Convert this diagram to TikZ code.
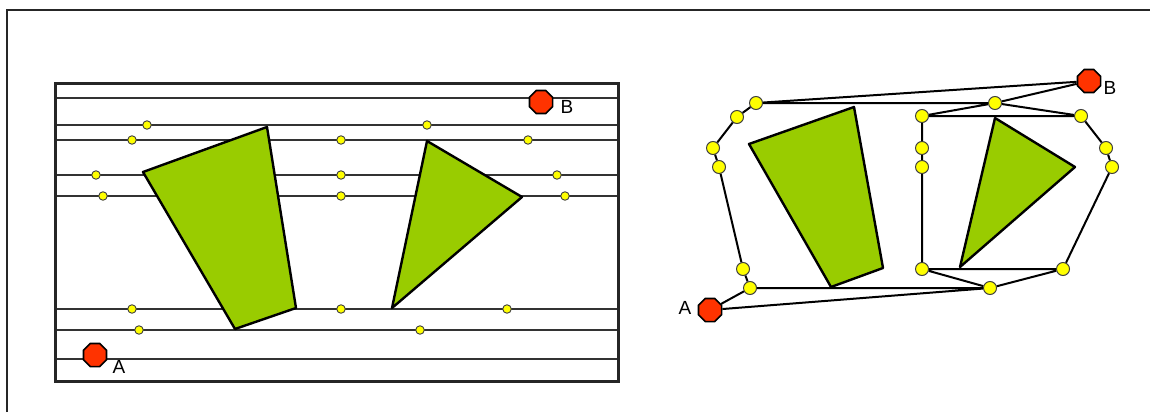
\documentclass[tikz,border=0pt]{standalone}
\usepackage{fontspec}
\setmainfont{Liberation Sans}
\usetikzlibrary{shapes.geometric}
\definecolor{obgreen}{HTML}{99CC00}
\definecolor{termred}{HTML}{FF3300}
\definecolor{dotyellow}{HTML}{FFFF00}
\begin{document}
\begin{tikzpicture}[x=1pt,y=-1pt,
  sdot/.style={circle,draw=black!75,fill=dotyellow,line width=0.9pt,inner sep=0pt,minimum size=8.5pt},
  bdot/.style={circle,draw=black!75,fill=dotyellow,line width=1pt,inner sep=0pt,minimum size=13pt},
  term/.style={regular polygon,regular polygon sides=8,draw=black,fill=termred,line width=1.6pt,inner sep=0pt,minimum size=25pt},
  obst/.style={fill=obgreen,draw=black,line width=2.4pt,line join=round},
  lbl/.style={font=\fontsize{19}{19}\selectfont,inner sep=0pt},
  sweep/.style={draw=black!80,line width=1.6pt},
  gedge/.style={draw=black,line width=2pt}]
\useasboundingbox (0,0) rectangle (1150,412);
% outer frame
\draw[line width=2pt,black!85] (7,412) -- (7,10) -- (1150,10);

% ---------- left panel ----------
\foreach \yy in {98,125,140,175,196,309,330,359}
  \draw[sweep] (55,\yy) -- (618,\yy);
\draw[line width=3pt,black!85] (55,83) rectangle (618,381);
\draw[obst] (143,172) -- (267,127) -- (296,308) -- (235,329) -- cycle;
\draw[obst] (427,141) -- (522,197) -- (392,308) -- cycle;

\node[sdot] (p1) at (147,125) {};
\node[sdot] (p2) at (427,125) {};
\node[sdot] (p3) at (132,140) {};
\node[sdot] (p4) at (341,140) {};
\node[sdot] (p5) at (528,140) {};
\node[sdot] (p6) at (96,175) {};
\node[sdot] (p7) at (341,175) {};
\node[sdot] (p8) at (557,175) {};
\node[sdot] (p9) at (103,196) {};
\node[sdot] (p10) at (341,196) {};
\node[sdot] (p11) at (565,196) {};
\node[sdot] (p12) at (132,309) {};
\node[sdot] (p13) at (341,309) {};
\node[sdot] (p14) at (507,309) {};
\node[sdot] (p15) at (139,330) {};
\node[sdot] (p16) at (420,330) {};

\node[term] (lB) at (541,102) {};
\node[lbl] (lBt) at (567,107) {B};
\node[term] (lA) at (95,355) {};
\node[lbl] (lAt) at (119,367) {A};

% ---------- right panel ----------
\draw[obst] (749,144) -- (854,107) -- (883,268) -- (831,287) -- cycle;
\draw[obst] (995,118) -- (1075,167) -- (960,267) -- cycle;

\node[term] (A) at (710,310) {};
\node[lbl] (At) at (685,308) {A};
\node[term] (B) at (1089,81) {};
\node[lbl] (Bt) at (1110,88) {B};

\node[bdot] (q1) at (756,103) {};
\node[bdot] (q2) at (737,117) {};
\node[bdot] (q3) at (713,148) {};
\node[bdot] (q4) at (719,167) {};
\node[bdot] (q5) at (743,269) {};
\node[bdot] (q6) at (750,288) {};
\node[bdot] (r1) at (995,103) {};
\node[bdot] (r2) at (922,116) {};
\node[bdot] (r3) at (1081,116) {};
\node[bdot] (r4) at (922,148) {};
\node[bdot] (r5) at (922,167) {};
\node[bdot] (r6) at (1106,148) {};
\node[bdot] (r7) at (1112,167) {};
\node[bdot] (r8) at (922,269) {};
\node[bdot] (r9) at (1063,269) {};
\node[bdot] (r10) at (990,288) {};

\path[gedge]
  (A) -- (q6)  (A) -- (r10)
  (q6) -- (q5)  (q5) -- (q4)  (q4) -- (q3)  (q3) -- (q2)  (q2) -- (q1)
  (q1) -- (B)  (q1) -- (r1)
  (r1) -- (B)  (r1) -- (r2)  (r1) -- (r3)  (r2) -- (r3)
  (r2) -- (r4)  (r4) -- (r5)  (r5) -- (r8)
  (r3) -- (r6)  (r6) -- (r7)  (r7) -- (r9)
  (r8) -- (r9)  (r8) -- (r10)  (r9) -- (r10)
  (q6) -- (r10);
\end{tikzpicture}
\end{document}
